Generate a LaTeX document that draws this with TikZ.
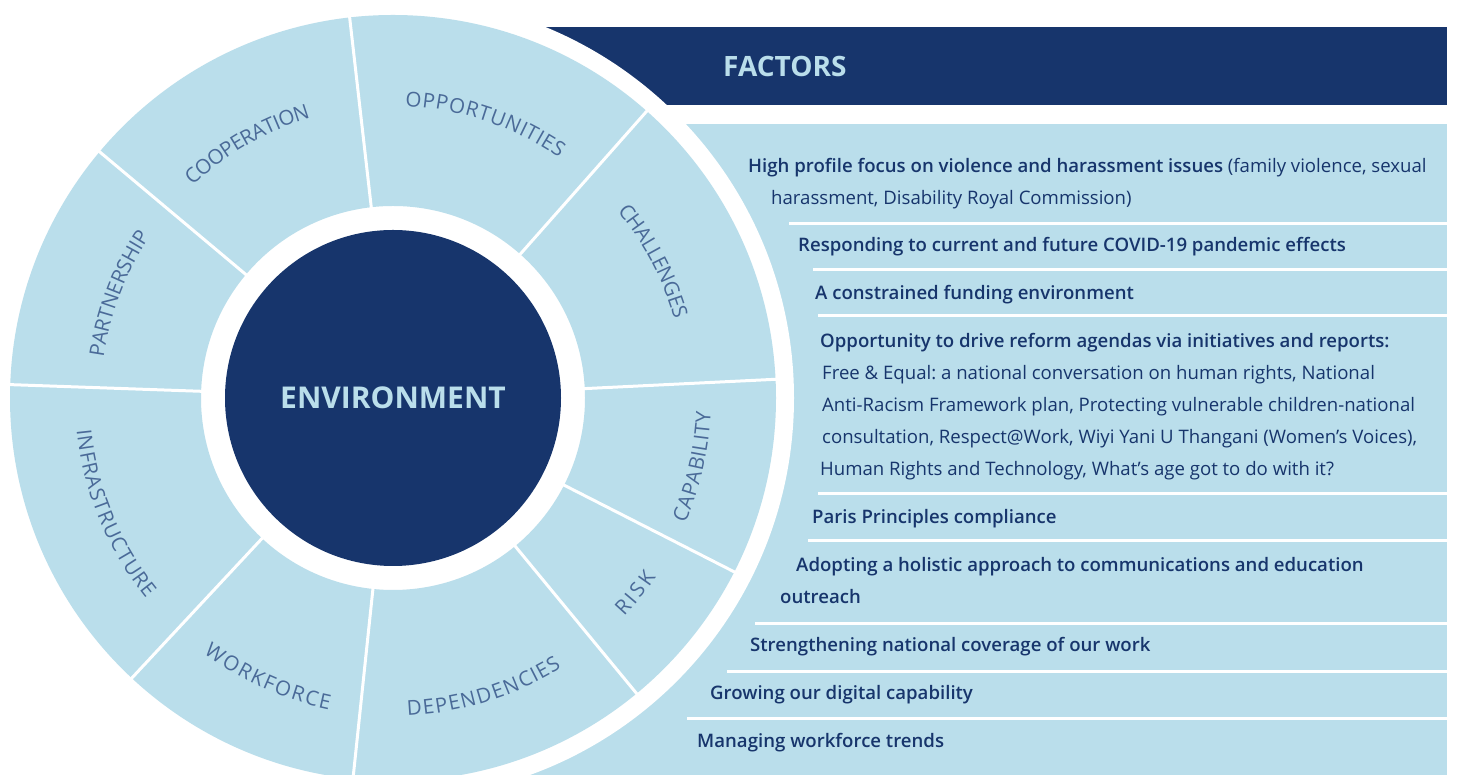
\documentclass[tikz,border=0pt]{standalone}
\usepackage{fontspec}
\setmainfont{Open Sans}
\IfFontExistsTF{Open Sans SemiBold}{\newfontfamily\semibold{Open Sans SemiBold}}{%
  \IfFontExistsTF{Open Sans Semibold}{\newfontfamily\semibold{Open Sans Semibold}}{\newcommand\semibold{\bfseries}}}
\usetikzlibrary{decorations.text}
\definecolor{navy}{HTML}{17356C}
\definecolor{ringblue}{HTML}{BADEEB}
\definecolor{labelblue}{HTML}{4A6A98}
\frenchspacing

\begin{document}
\begin{tikzpicture}[x=1pt, y=1pt,
  factor/.style={anchor=base west, inner sep=0pt, text=navy, font=\fontsize{18.6}{22}\selectfont},
  rule/.style={white, line width=3pt},
  divider/.style={white, line width=3pt},
  seglabel/.style={decorate, decoration={text effects along path, text={#1},
      text effects/.cd, text along path, fit text to path,
      characters={text=labelblue, font=\fontsize{20.5}{24}\selectfont}}}]
\useasboundingbox (0,0) rectangle (1457,775);
\clip (0,0) rectangle (1457,775);
% panel and banner
\fill[ringblue] (500,0) rectangle (1447,651);
\fill[navy] (500,670) rectangle (1447,748);
\coordinate (c) at (393,377);
\fill[white] (c) circle (401);
\fill[ringblue, even odd rule] (c) circle (383) (c) circle (192);
\begin{scope}[shift={(393,377)}]
% dividers
\foreach \a in {96.5,48.5,2.8,-27,-50.5,-96,-133,178,140}
  \draw[divider] (\a:190) -- (\a:385);
% wheel labels
\path[seglabel=OPPORTUNITIES] (87.6:292) arc[start angle=87.6, end angle=55.3, radius=292];
\path[seglabel=COOPERATION] (133.3:292) arc[start angle=133.3, end angle=106.4, radius=292];
\path[seglabel=PARTNERSHIP] (172.1:292) arc[start angle=172.1, end angle=146.3, radius=292];
\path[seglabel=CHALLENGES] (39.8:292) arc[start angle=39.8, end angle=15.6, radius=292];
\path[seglabel=CAPABILITY] (-23.2:318) arc[start angle=-23.2, end angle=-2.5, radius=318];
\path[seglabel=RISK] (-43.4:318) arc[start angle=-43.4, end angle=-34.2, radius=318];
\path[seglabel=DEPENDENCIES] (-87.4:318) arc[start angle=-87.4, end angle=-58, radius=318];
\path[seglabel=WORKFORCE] (-126.6:318) arc[start angle=-126.6, end angle=-101.6, radius=318];
\path[seglabel=INFRASTRUCTURE] (185.8:318) arc[start angle=185.8, end angle=219.1, radius=318];
\end{scope}
\node[circle, fill=navy, minimum size=336, inner sep=0pt, text=ringblue,
  font=\bfseries\fontsize{30}{36}\selectfont] (env) at (c) {ENVIRONMENT};
\node[anchor=base west, inner sep=0pt, text=ringblue,
  font=\bfseries\fontsize{28}{34}\selectfont] (factors) at (723,698) {FACTORS};
% factor list
\node[factor] (f1a) at (748,602) {{\semibold High profile focus on violence and harassment issues} (family violence, sexual};
\node[factor] (f1b) at (771,570) {harassment, Disability Royal Commission)};
\node[factor] (f2) at (798,523) {\semibold Responding to current and future COVID-19 pandemic effects};
\node[factor] (f3) at (815,475) {\semibold A constrained funding environment};
\node[factor] (f4a) at (820,427) {\semibold Opportunity to drive reform agendas via initiatives and reports:};
\node[factor] (f4b) at (822,395) {Free \& Equal: a national conversation on human rights, National};
\node[factor] (f4c) at (822,363) {Anti-Racism Framework plan, Protecting vulnerable children-national};
\node[factor] (f4d) at (822,331) {consultation, Respect@Work, Wiyi Yani U Thangani (Women’s Voices),};
\node[factor] (f4e) at (820,299) {Human Rights and Technology, What’s age got to do with it?};
\node[factor] (f5) at (812,251) {\semibold Paris Principles compliance};
\node[factor] (f6a) at (796,203) {\semibold Adopting a holistic approach to communications and education};
\node[factor] (f6b) at (780,171) {\semibold outreach};
\node[factor] (f7) at (750,123) {\semibold Strengthening national coverage of our work};
\node[factor] (f8) at (710,75) {\semibold Growing our digital capability};
\node[factor] (f9) at (697,27) {\semibold Managing workforce trends};
% separators
\foreach \y/\x in {551/789, 505/813, 459/818, 281/818, 234/808, 151/755, 103/727, 56/687}
  \draw[rule] (\x,\y) -- (1447,\y);
\end{tikzpicture}
\end{document}
